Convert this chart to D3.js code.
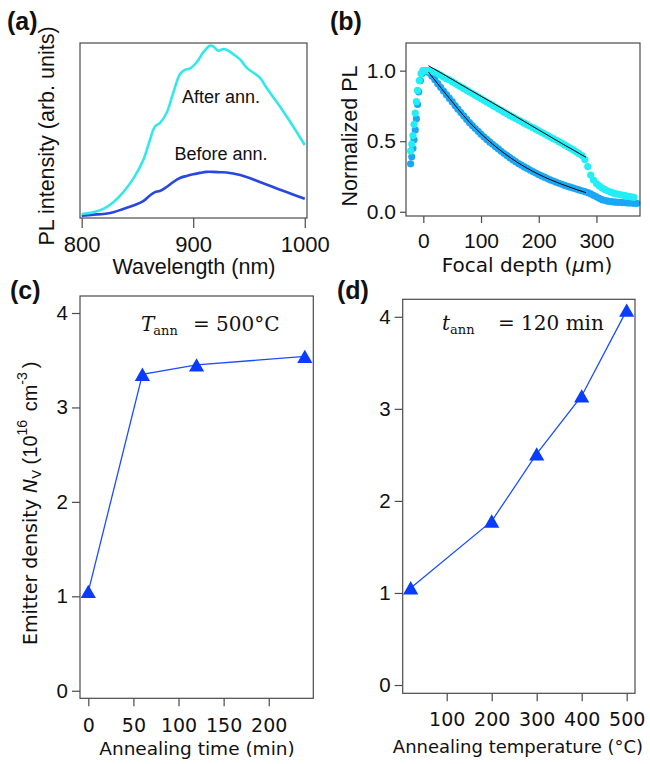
<!DOCTYPE html>
<html>
<head>
<meta charset="utf-8">
<script src="https://cdn.jsdelivr.net/npm/d3@7"></script>
<style>
body { margin: 0; background: #fff; }
svg { display: block; }
</style>
</head>
<body>
<svg width="650" height="764"></svg>
<script>
'use strict';

// (a) PL spectra
var wlAfter = [800, 810.4, 819.4, 828.4, 837.3, 846.3, 855.2, 861.2, 865.7, 870.1, 876.1, 882.1, 888.1, 892.5, 897, 903, 909, 914.9, 917.9, 922.4, 926.9, 929.9, 935.8, 941.8, 947.8, 959.7, 965.7, 977.6, 989.6, 1000];
var plAfter = [0.024, 0.034, 0.054, 0.094, 0.154, 0.234, 0.344, 0.464, 0.544, 0.564, 0.624, 0.744, 0.854, 0.88, 0.888, 0.924, 0.984, 1.024, 1.02, 0.994, 1.004, 1.0, 0.974, 0.944, 0.894, 0.834, 0.774, 0.664, 0.544, 0.434];
var wlBefore = [800, 810.4, 819.4, 828.4, 837.3, 846.3, 855.2, 861.2, 865.7, 870.1, 876.1, 882.1, 888.1, 894, 900, 906, 911.9, 917.9, 923.9, 929.9, 935.8, 947.8, 959.7, 971.6, 983.6, 1000];
var plBefore = [0.014, 0.02, 0.024, 0.034, 0.054, 0.074, 0.1, 0.134, 0.154, 0.16, 0.184, 0.214, 0.238, 0.25, 0.26, 0.268, 0.274, 0.274, 0.272, 0.27, 0.264, 0.244, 0.214, 0.184, 0.154, 0.114];
var wlTicks = [800, 900, 1000];

// (b) normalized PL vs focal depth
var depthBefore = [-22, -20, -18, -16, -14, -12, -10, -8, -5, -2, 1, 4, 7,
	10, 15, 20, 25, 30, 35, 40, 45, 50, 55, 60, 65, 70, 75, 80, 85, 90, 95, 100, 105, 110, 115, 120, 125, 130, 135, 140, 145, 150, 155, 160, 165, 170, 175, 180, 185, 190, 195, 200, 205, 210, 215, 220, 225, 230, 235, 240, 245, 250, 255, 260, 265, 270, 275, 280, 285, 290, 295, 300, 305, 310, 315, 320, 325, 330, 335, 340, 345, 350, 355, 360, 365, 370];
var normBefore = [0.34, 0.39, 0.45, 0.51, 0.58, 0.66, 0.76, 0.85, 0.93, 0.98, 1.0, 1.0, 0.995,
	0.985, 0.96, 0.935, 0.908, 0.882, 0.856, 0.83, 0.805, 0.78, 0.753, 0.727, 0.703, 0.68, 0.656, 0.632, 0.611, 0.59, 0.57, 0.55, 0.531, 0.513, 0.495, 0.478, 0.461, 0.445, 0.429, 0.413, 0.398, 0.383, 0.369, 0.355, 0.342, 0.33, 0.318, 0.307, 0.296, 0.285, 0.274, 0.264, 0.254, 0.245, 0.235, 0.226, 0.218, 0.21, 0.202, 0.195, 0.187, 0.18, 0.174, 0.168, 0.161, 0.155, 0.149, 0.143, 0.136, 0.127, 0.117, 0.106, 0.095, 0.086, 0.08, 0.075, 0.072, 0.07, 0.068, 0.066, 0.065, 0.064, 0.063, 0.062, 0.061, 0.06];
var depthAfter = [-22, -20, -18, -16, -14, -12, -10, -7, -4, -1, 2, 5, 8,
	10, 15, 20, 25, 30, 35, 40, 45, 50, 55, 60, 65, 70, 75, 80, 85, 90, 95, 100, 105, 110, 115, 120, 125, 130, 135, 140, 145, 150, 155, 160, 165, 170, 175, 180, 185, 190, 195, 200, 205, 210, 215, 220, 225, 230, 235, 240, 245, 250, 255, 260, 265, 270, 275, 280, 285, 290, 295, 300, 305, 310, 315, 320, 325, 330, 335, 340, 345, 350, 355, 360, 365];
var normAfter = [0.43, 0.48, 0.54, 0.62, 0.70, 0.78, 0.86, 0.93, 0.98, 1.0, 1.0, 1.0, 1.0,
	1.0, 0.995, 0.99, 0.98, 0.967, 0.955, 0.943, 0.935, 0.923, 0.91, 0.898, 0.886, 0.874, 0.862, 0.85, 0.838, 0.826, 0.814, 0.802, 0.79, 0.778, 0.766, 0.754, 0.742, 0.73, 0.718, 0.706, 0.694, 0.683, 0.672, 0.661, 0.65, 0.639, 0.628, 0.617, 0.606, 0.596, 0.585, 0.574, 0.563, 0.552, 0.541, 0.53, 0.519, 0.508, 0.497, 0.486, 0.474, 0.462, 0.45, 0.438, 0.425, 0.412, 0.398, 0.37, 0.32, 0.26, 0.225, 0.2, 0.183, 0.168, 0.157, 0.147, 0.139, 0.132, 0.127, 0.122, 0.118, 0.114, 0.11, 0.106, 0.102];
var fitDepth = [9, 40, 80, 120, 160, 200, 240, 282];
var fitAfter = [1.035, 0.962, 0.866, 0.772, 0.676, 0.58, 0.484, 0.386];
var fitBefore = [0.99, 0.83, 0.635, 0.48, 0.358, 0.265, 0.195, 0.135];
var depthTicks = [0, 100, 200, 300];
var normTicks = [0, 0.5, 1.0];

// (c) emitter density vs annealing time
var annTime = [0, 60, 120, 240];
var densTime = [1.05, 3.35, 3.45, 3.54];
var timeTicks = [0, 50, 100, 150, 200];

// (d) emitter density vs annealing temperature
var annTemp = [20, 200, 300, 400, 500];
var densTemp = [1.055, 1.78, 2.51, 3.14, 4.07];
var tempTicks = [100, 200, 300, 400, 500];
var densTicks = [0, 1, 2, 3, 4];

var svg = d3.select('svg');
var helv = 'Liberation Sans, Arial, Helvetica, sans-serif';
var lucida = 'DejaVu Sans, Lucida Grande, sans-serif';
var serif = 'DejaVu Serif, Cambria, serif';
var frameColor = '#4a4a4a';

function frame(x, y) {
	svg.append('rect')
		.attr('x', x.range()[0]).attr('y', y.range()[1])
		.attr('width', x.range()[1] - x.range()[0])
		.attr('height', y.range()[0] - y.range()[1])
		.attr('fill', 'none').attr('stroke', frameColor).attr('stroke-width', 1.2);
}

function bottomAxis(x, y, ticks, len, pad, font, size) {
	var g = svg.append('g')
		.attr('transform', 'translate(0,' + y.range()[0] + ')')
		.call(d3.axisBottom(x).tickValues(ticks).tickSize(len).tickPadding(pad).tickFormat(d3.format('d')));
	g.select('.domain').remove();
	g.selectAll('line').attr('stroke', frameColor).attr('stroke-width', 1.2);
	g.selectAll('text').attr('fill', '#111').style('font-family', font).style('font-size', size + 'px');
	return g;
}

function leftAxis(x, y, ticks, len, pad, fmt, font, size) {
	var g = svg.append('g')
		.attr('transform', 'translate(' + x.range()[0] + ',0)')
		.call(d3.axisLeft(y).tickValues(ticks).tickSize(len).tickPadding(pad).tickFormat(fmt));
	g.select('.domain').remove();
	g.selectAll('line').attr('stroke', frameColor).attr('stroke-width', 1.2);
	g.selectAll('text').attr('fill', '#111').style('font-family', font).style('font-size', size + 'px');
	return g;
}

function label(txt, x, y, font, size, opts) {
	opts = opts || {};
	var t = svg.append('text')
		.attr('x', x).attr('y', y)
		.attr('text-anchor', opts.anchor || 'middle')
		.style('font-family', font).style('font-size', size + 'px')
		.style('font-weight', opts.weight || 'normal')
		.attr('fill', '#111')
		.text(txt);
	if (opts.rotate) t.attr('transform', 'rotate(-90,' + x + ',' + y + ')');
	return t;
}

// ---------- (a)
var xa = d3.scaleLinear().domain([798.5, 1002]).range([80, 307]);
var ya = d3.scaleLinear().domain([0, 1.04]).range([218, 43]);
var lineA = d3.line().x(function(d){ return xa(d[0]); }).y(function(d){ return ya(d[1]); }).curve(d3.curveCatmullRom);

svg.append('path').datum(d3.zip(wlBefore, plBefore))
	.attr('d', lineA).attr('fill', 'none').attr('stroke', '#2748e0').attr('stroke-width', 2.6);
svg.append('path').datum(d3.zip(wlAfter, plAfter))
	.attr('d', lineA).attr('fill', 'none').attr('stroke', '#33e8ea').attr('stroke-width', 2.6);
frame(xa, ya);
bottomAxis(xa, ya, wlTicks, 10, 8, helv, 22);
label('After ann.', 221, 103, helv, 18);
label('Before ann.', 221, 160, helv, 18);
label('Wavelength (nm)', 194, 274, helv, 21.5);
label('PL intensity (arb. units)', 54, 136, helv, 21.5, {rotate: true});
label('(a)', 7, 30, helv, 25, {anchor: 'start', weight: 'bold'});

// ---------- (b)
var xb = d3.scaleLinear().domain([-30, 375.5]).range([406, 640]);
var yb = d3.scaleLinear().domain([-0.03, 1.196]).range([216, 43]);
svg.append('g').selectAll('circle').data(d3.zip(depthBefore, normBefore)).enter()
	.append('circle')
	.attr('cx', function(d){ return xb(d[0]); })
	.attr('cy', function(d){ return yb(d[1]); })
	.attr('r', 3.6).attr('fill', '#1aa7f5');
svg.append('g').selectAll('circle').data(d3.zip(depthAfter, normAfter)).enter()
	.append('circle')
	.attr('cx', function(d){ return xb(d[0]); })
	.attr('cy', function(d){ return yb(d[1]); })
	.attr('r', 3.6).attr('fill', '#22eef6');
var lineB = d3.line().x(function(d){ return xb(d[0]); }).y(function(d){ return yb(d[1]); }).curve(d3.curveMonotoneX);
svg.append('path').datum(d3.zip(fitDepth, fitAfter))
	.attr('d', lineB).attr('fill', 'none').attr('stroke', '#000').attr('stroke-width', 1);
svg.append('path').datum(d3.zip(fitDepth, fitBefore))
	.attr('d', lineB).attr('fill', 'none').attr('stroke', '#000').attr('stroke-width', 1);
frame(xb, yb);
bottomAxis(xb, yb, depthTicks, 7, 10, helv, 21);
leftAxis(xb, yb, normTicks, 6, 4, d3.format('.1f'), helv, 21);
var fd = label('Focal depth (', 527, 272, lucida, 20);
fd.append('tspan').style('font-style', 'italic').text('\u03bc');
fd.append('tspan').text('m)');
label('Normalized PL', 357, 136, helv, 21.5, {rotate: true});
label('(b)', 330, 30, helv, 25, {anchor: 'start', weight: 'bold'});

// ---------- (c) and (d)
function densityPanel(x, y, xs, ys, xticks, pad) {
	var line = d3.line().x(function(d){ return x(d[0]); }).y(function(d){ return y(d[1]); });
	var pts = d3.zip(xs, ys);
	svg.append('path').datum(pts)
		.attr('d', line).attr('fill', 'none').attr('stroke', '#1a4dff').attr('stroke-width', 1.3);
	svg.append('g').selectAll('path').data(pts).enter()
		.append('path')
		.attr('d', 'M0,-6.8L7.6,6.5L-7.6,6.5Z')
		.attr('transform', function(d){ return 'translate(' + x(d[0]) + ',' + y(d[1]) + ')'; })
		.attr('fill', '#0a3cff');
	frame(x, y);
	bottomAxis(x, y, xticks, 8, pad, lucida, 19);
	leftAxis(x, y, densTicks, 8, 4, d3.format('d'), helv, 20.5);
}

var xc = d3.scaleLinear().domain([-9.2, 249.4]).range([80, 313.3]);
var yc = d3.scaleLinear().domain([-0.08, 4.18]).range([698.3, 296]);
densityPanel(xc, yc, annTime, densTime, timeTicks, 12);
label('Annealing time (min)', 197, 755, lucida, 18.5);
label('(c)', 10, 299, helv, 25, {anchor: 'start', weight: 'bold'});

var yl = svg.append('text')
	.attr('transform', 'translate(37,645) rotate(-90)')
	.attr('fill', '#111')
	.style('font-family', lucida).style('font-size', '19px');
yl.append('tspan').text('Emitter density ');
yl.append('tspan').style('font-style', 'italic').text('N');
yl.append('tspan').attr('dy', 4).style('font-size', '13px').text('V');
yl.append('tspan').attr('dy', -4).style('font-family', helv).style('font-size', '20px').text(' (10');
yl.append('tspan').attr('dy', -10).style('font-family', helv).style('font-size', '14px').text('16');
yl.append('tspan').attr('dy', 10).attr('dx', 3).style('font-family', helv).style('font-size', '20px').text(' cm');
yl.append('tspan').attr('dy', -10).style('font-family', helv).style('font-size', '14px').text('-3');
yl.append('tspan').attr('dy', 10).attr('dx', 4).style('font-family', helv).style('font-size', '20px').text(')');

var t1 = svg.append('text').attr('x', 141).attr('y', 331).style('font-family', serif).style('font-size', '20px').attr('fill', '#111');
t1.append('tspan').style('font-style', 'italic').text('T');
t1.append('tspan').attr('dy', 4).attr('dx', -1).style('font-size', '13px').text('ann');
svg.append('text').attr('x', 193).attr('y', 331).style('font-family', serif).style('font-size', '20px').attr('fill', '#111').text('= 500\u00b0C');

var xd = d3.scaleLinear().domain([2.2, 518.5]).range([402.7, 635]);
var yd = d3.scaleLinear().domain([-0.09, 4.19]).range([693.3, 299.3]);
densityPanel(xd, yd, annTemp, densTemp, tempTicks, 11);
label('Annealing temperature (\u00b0C)', 518, 753, lucida, 18);
label('(d)', 337, 299, helv, 25, {anchor: 'start', weight: 'bold'});

var t2 = svg.append('text').attr('x', 442).attr('y', 330).style('font-family', serif).style('font-size', '20px').attr('fill', '#111');
t2.append('tspan').style('font-style', 'italic').text('t');
t2.append('tspan').attr('dy', 4).style('font-size', '13px').text('ann');
svg.append('text').attr('x', 498).attr('y', 330).style('font-family', serif).style('font-size', '20px').attr('fill', '#111').text('= 120 min');
</script>
</body>
</html>
